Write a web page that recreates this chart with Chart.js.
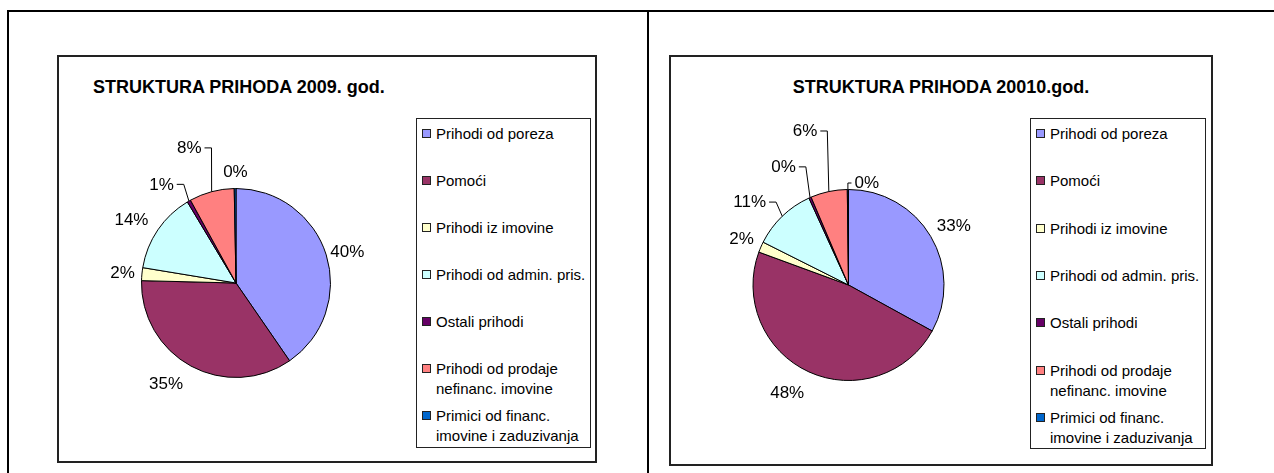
<!DOCTYPE html>
<html><head><meta charset="utf-8">
<script src="https://cdn.jsdelivr.net/npm/chart.js@4.4.0/dist/chart.umd.min.js"></script>
<style>
html,body{margin:0;padding:0;background:#fff;}
body{width:1274px;height:473px;position:relative;overflow:hidden;font-family:"Liberation Sans",Arial,sans-serif;color:#000;}
.line{position:absolute;background:#000;}
.box{position:absolute;border:2px solid #222;box-sizing:border-box;}
.legend{position:absolute;border:1px solid #222;box-sizing:border-box;}
.entry{position:absolute;left:0;font-size:15px;line-height:20px;}
.sw{position:absolute;width:9px;height:9px;border:1px solid #222;box-sizing:border-box;}
.txt{position:absolute;width:160px;}
.title{position:absolute;font-weight:bold;font-size:18px;line-height:22px;white-space:nowrap;}
canvas{position:absolute;}
</style></head>
<body>
<div class="line" style="left:7px;top:10px;width:1267px;height:2px;"></div>
<div class="line" style="left:7px;top:10px;width:2px;height:463px;"></div>
<div class="line" style="left:647px;top:10px;width:2px;height:463px;"></div>
<div class="box" style="left:57px;top:55px;width:540px;height:408px;"></div>
<div class="box" style="left:669px;top:55px;width:544px;height:411px;"></div>
<div id="t1" class="title" style="left:93px;top:76px;"></div>
<div id="t2" class="title" style="left:670px;width:542px;text-align:center;top:76px;"></div>
<div id="lg1" class="legend" style="left:416px;top:118px;width:175px;height:330px;"></div>
<div id="lg2" class="legend" style="left:1030px;top:118px;width:176px;height:331px;"></div>
<canvas id="c1" width="538" height="406" style="left:58px;top:56px;width:538px;height:406px;"></canvas>
<canvas id="c2" width="542" height="409" style="left:670px;top:56px;width:542px;height:409px;"></canvas>
<script>
// ---- data ----
const categories = ["Prihodi od poreza","Pomoći","Prihodi iz imovine","Prihodi od admin. pris.","Ostali prihodi","Prihodi od prodaje nefinanc. imovine","Primici od financ. imovine i zaduzivanja"];
const values2009 = [40.4, 35.0, 2.2, 13.8, 0.6, 7.7, 0.3];
const values2010 = [33.0, 47.6, 1.8, 10.8, 0.4, 6.2, 0.2];
const sliceColors = ["#9999FF","#993366","#FFFFCC","#CCFFFF","#660066","#FF8080","#0066CC"];
const title2009 = "STRUKTURA PRIHODA 2009. god.";
const title2010 = "STRUKTURA PRIHODA 20010.god.";

// ---- label styling (offsets in px relative to default outside position) ----
const labelOffsets2009 = [[1,4],[-15,0],[1.5,1.5],[-9,2],[-17,2],[-17,-23],[0.5,5]];
const labelLeaders2009 = [0,0,0,0,1,1,0];
const labelOffsets2010 = [[5,1],[-13,2.5],[0,1],[-18,1.5],[-18,-11],[-19.5,-39.5],[19,15]];
const labelLeaders2010 = [0,0,0,1,1,1,1];

const pieLabels = {
  id:'pieLabels',
  afterDatasetsDraw(chart, args, opts){
    const ctx = chart.ctx;
    const meta = chart.getDatasetMeta(0);
    const ds = chart.data.datasets[0];
    const total = ds.data.reduce((a,b)=>a+b,0);
    ctx.save();
    ctx.font = opts.font;
    ctx.fillStyle = '#000'; ctx.strokeStyle = '#000'; ctx.lineWidth = 1;
    ctx.textAlign = 'center'; ctx.textBaseline = 'middle';
    meta.data.forEach((arc,i)=>{
      const p = arc.getProps(['x','y','startAngle','endAngle','outerRadius'], true);
      const mid = (p.startAngle + p.endAngle)/2;
      const R = p.outerRadius + opts.gap;
      const off = opts.offsets[i];
      const lx = p.x + Math.cos(mid)*R + off[0];
      const ly = p.y + Math.sin(mid)*R + off[1];
      const text = Math.round(ds.data[i]/total*100) + '%';
      ctx.fillText(text, lx, ly);
      if (opts.leaders[i]) {
        const w = ctx.measureText(text).width;
        const px = p.x + Math.cos(mid)*p.outerRadius, py = p.y + Math.sin(mid)*p.outerRadius;
        const dir = px > lx ? 1 : -1;
        const x0 = lx + dir*(w/2 + 3);
        let x1 = x0 + dir*7;
        if ((x1 - px)*dir > 0) x1 = px;
        ctx.beginPath();
        ctx.moveTo(x0, ly - 0.5); ctx.lineTo(x1, ly - 0.5); ctx.lineTo(px, py);
        ctx.stroke();
      }
    });
    ctx.restore();
  }
};

function makePie(id, values, padding, offsets, leaders){
  return new Chart(document.getElementById(id), {
    type:'pie',
    data:{ labels: categories, datasets:[{ data: values, backgroundColor: sliceColors, borderColor:'#000', borderWidth:1 }]},
    options:{
      responsive:false, animation:false,
      layout:{ padding: padding },
      plugins:{
        legend:{display:false}, tooltip:{enabled:false}, title:{display:false},
        pieLabels:{ font:'17px "Liberation Sans", Arial, sans-serif', gap:21, offsets: offsets, leaders: leaders }
      }
    },
    plugins:[pieLabels]
  });
}

const ch1 = makePie('c1', values2009, {left:83, top:132, right:265, bottom:84}, labelOffsets2009, labelLeaders2009);
const ch2 = makePie('c2', values2010, {left:82.5, top:133, right:267.5, bottom:84}, labelOffsets2010, labelLeaders2010);

function buildLegend(el, chart, step){
  const labels = chart.data.labels;
  const cols = chart.data.datasets[0].backgroundColor;
  labels.forEach((lab,i)=>{
    const e = document.createElement('div');
    e.className = 'entry';
    e.style.top = (5 + i*step) + 'px';
    const sw = document.createElement('div');
    sw.className = 'sw';
    sw.style.left = '5px'; sw.style.top = '5px';
    sw.style.background = cols[i];
    const t = document.createElement('div');
    t.className = 'txt';
    t.style.left = '19px'; t.style.top = '0px';
    t.textContent = lab;
    e.appendChild(sw); e.appendChild(t);
    el.appendChild(e);
  });
}
buildLegend(document.getElementById('lg1'), ch1, 47);
buildLegend(document.getElementById('lg2'), ch2, 47.3);
document.getElementById('t1').textContent = title2009;
document.getElementById('t2').textContent = title2010;
</script>
</body></html>
